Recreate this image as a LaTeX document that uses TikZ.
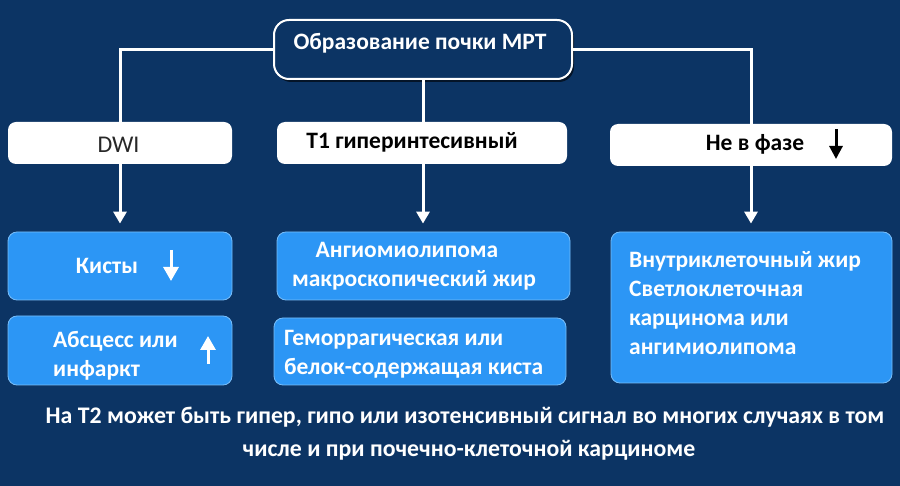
\documentclass[tikz,border=0pt]{standalone}
\usepackage{fontspec}
\setmainfont{Carlito}
\usetikzlibrary{arrows.meta,shadows}
\definecolor{bgnavy}{RGB}{12,52,100}
\definecolor{boxblue}{RGB}{44,150,245}
\definecolor{boxedge}{RGB}{120,190,250}
\definecolor{dwigray}{RGB}{40,40,40}
\begin{document}
\begin{tikzpicture}[x=1pt,y=-1pt,
  whitebox/.style={draw=none,fill=white,rounded corners=8pt,inner sep=0pt},
  bluebox/.style={draw=boxedge,line width=0.8pt,fill=boxblue,rounded corners=9pt,inner sep=0pt},
  topbox/.style={draw=white,line width=2pt,fill=bgnavy,rounded corners=15pt,inner sep=0pt,
    drop shadow={shadow xshift=2pt,shadow yshift=-3pt,opacity=0.6,fill=black}},
  wline/.style={draw=white,line width=3pt},
  warrow/.style={wline,-{Triangle[width=13pt,length=12pt]},shorten >=8pt},
  wtxt/.style={text=white,font=\bfseries\fontsize{23.5}{28}\selectfont,inner sep=0pt},
  ktxt/.style={text=black,font=\bfseries\fontsize{23.5}{28}\selectfont,inner sep=0pt},
  sym/.style={line width=3pt,-{Triangle[width=15pt,length=14pt]}}
]
\fill[bgnavy] (0,0) rectangle (900,486);
\useasboundingbox (0,0) rectangle (900,486);

% boxes
\node[topbox,minimum width=298pt,minimum height=59pt] (top) at (423,49.5) {};
\node[whitebox,minimum width=224pt,minimum height=42pt] (dwi) at (120,143) {};
\node[whitebox,minimum width=290pt,minimum height=42pt] (t1) at (422,143) {};
\node[whitebox,minimum width=282pt,minimum height=42pt] (nf) at (751,145) {};
\node[bluebox,minimum width=224pt,minimum height=68pt] (kist) at (120,266) {};
\node[bluebox,minimum width=224pt,minimum height=69pt] (absc) at (120,350.5) {};
\node[bluebox,minimum width=293pt,minimum height=68pt] (angio) at (423.5,266) {};
\node[bluebox,minimum width=292pt,minimum height=67pt] (gem) at (420,351.5) {};
\node[bluebox,minimum width=281pt,minimum height=151pt] (vnut) at (751.5,307.5) {};

% connectors
\draw[wline] (top.west) -| (dwi.north);
\draw[wline] (top.east) -| (nf.north);
\draw[wline] (top.south) -- (top.south |- t1.north);
\draw[warrow] (dwi.south) -- (kist.north);
\draw[warrow] (top.south |- t1.south) -- (top.south |- angio.north);
\draw[warrow] (nf.south) -- (nf.south |- vnut.north);

% texts
\node[wtxt,anchor=base] (ttop) at (420,50) {Образование почки МРТ};
\node[text=dwigray,font=\fontsize{24}{28}\selectfont,inner sep=0pt,anchor=base] (tdwi) at (118.5,152.5) {DWI};
\node[ktxt,anchor=base] (tt1) at (412,149) {Т1 гиперинтесивный};
\node[ktxt,anchor=base] (tnf) at (755,151) {Не в фазе};
\coordinate (nfa1) at (836,129);
\coordinate (nfa2) at (836,159);
\draw[sym,draw=black,-{Triangle[width=13pt,length=13pt]}] (nfa1) -- (nfa2);

\node[wtxt,anchor=base] (tkist) at (107,274) {Кисты};
\coordinate (ka1) at (171,250);
\coordinate (ka2) at (171,281);
\draw[sym,draw=white] (ka1) -- (ka2);

\node[wtxt,anchor=base west] (tabs1) at (53,348) {Абсцесс или};
\node[wtxt,anchor=base west] (tabs2) at (53,377) {инфаркт};
\coordinate (aa1) at (208,364);
\coordinate (aa2) at (208,336);
\draw[sym,draw=white] (aa1) -- (aa2);

\node[wtxt,anchor=base] (tang1) at (407,258) {Ангиомиолипома};
\node[wtxt,anchor=base] (tang2) at (414,287) {макроскопический жир};
\node[wtxt,anchor=base west] (tgem1) at (284,346) {Геморрагическая или};
\node[wtxt,anchor=base west] (tgem2) at (284,375) {белок-содержащая киста};

\node[wtxt,anchor=base west] (tv1) at (629,268) {Внутриклеточный жир};
\node[wtxt,anchor=base west] (tv2) at (629,297) {Светлоклеточная};
\node[wtxt,anchor=base west] (tv3) at (629,326) {карцинома или};
\node[wtxt,anchor=base west] (tv4) at (629,355) {ангимиолипома};

\node[wtxt,font=\bfseries\fontsize{23.8}{28}\selectfont,anchor=base] (tb1) at (465,424) {На Т2 может быть гипер, гипо или изотенсивный сигнал во многих случаях в том};
\node[wtxt,font=\bfseries\fontsize{23.8}{28}\selectfont,anchor=base] (tb2) at (469,456) {числе и при почечно-клеточной карциноме};
\end{tikzpicture}
\end{document}
